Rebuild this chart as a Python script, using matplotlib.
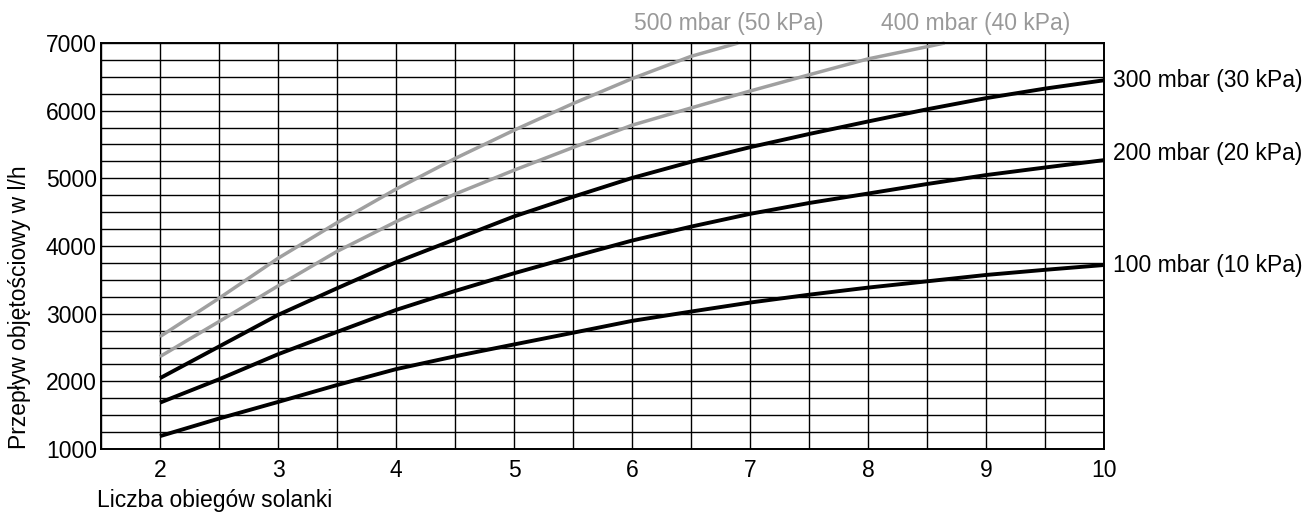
import matplotlib
matplotlib.use("Agg")
import matplotlib.pyplot as plt
from matplotlib.ticker import MultipleLocator

plt.rcParams['font.family'] = ['Liberation Sans', 'DejaVu Sans']

x_full = [2, 2.5, 3, 3.5, 4, 4.5, 5, 5.5, 6, 6.5, 7, 7.5, 8, 8.5, 9, 9.5, 10]
flow_100 = [1190, 1450, 1695, 1945, 2180, 2370, 2545, 2718, 2893, 3031, 3164, 3280, 3385, 3478, 3572, 3648, 3719]
flow_200 = [1685, 2030, 2400, 2730, 3055, 3335, 3597, 3843, 4080, 4286, 4475, 4635, 4775, 4916, 5048, 5160, 5269]
flow_300 = [2047, 2514, 2981, 3375, 3760, 4098, 4437, 4727, 5005, 5244, 5460, 5655, 5840, 6020, 6185, 6326, 6449]
x_400 = [2, 2.5, 3, 3.5, 4, 4.5, 5, 5.5, 6, 6.5, 7, 7.5, 8, 8.5, 8.65]
flow_400 = [2366, 2883, 3410, 3920, 4359, 4767, 5120, 5456, 5785, 6040, 6290, 6530, 6765, 6945, 7000]
x_500 = [2, 2.5, 3, 3.5, 4, 4.5, 5, 5.5, 6, 6.5, 6.9]
flow_500 = [2661, 3227, 3818, 4344, 4840, 5293, 5711, 6105, 6473, 6803, 7000]

labels_right = ["100 mbar (10 kPa)", "200 mbar (20 kPa)", "300 mbar (30 kPa)"]
labels_top = ["500 mbar (50 kPa)", "400 mbar (40 kPa)"]
x_ticks = [2, 3, 4, 5, 6, 7, 8, 9, 10]
y_ticks = [1000, 2000, 3000, 4000, 5000, 6000, 7000]

fig = plt.figure(figsize=(13.11, 5.13), dpi=100)
ax = fig.add_axes([101/1311, 1 - 449/513, (1104-101)/1311, (449-43)/513])

fs = 16.5
ax.set_xlim(1.5, 10)
ax.set_ylim(1000, 7000)
ax.set_xticks(x_ticks)
ax.set_yticks(y_ticks)
ax.xaxis.set_minor_locator(MultipleLocator(0.5))
ax.yaxis.set_minor_locator(MultipleLocator(250))
ax.grid(which='both', color='black', linewidth=1.0)
ax.tick_params(which='both', length=0, labelsize=fs, colors='black')
ax.tick_params(axis='x', pad=7)
ax.tick_params(axis='y', pad=3)
for s in ax.spines.values():
    s.set_linewidth(1.4)
    s.set_color('black')
ax.set_axisbelow(True)

black = '#000000'
gray = '#a0a0a0'
lw_b = 2.8
lw_g = 2.5
ax.plot(x_full, flow_100, color=black, lw=lw_b, solid_capstyle='butt', clip_on=False)
ax.plot(x_full, flow_200, color=black, lw=lw_b, solid_capstyle='butt', clip_on=False)
ax.plot(x_full, flow_300, color=black, lw=lw_b, solid_capstyle='butt', clip_on=False)
ax.plot(x_400, flow_400, color=gray, lw=lw_g, solid_capstyle='butt', clip_on=False)
ax.plot(x_500, flow_500, color=gray, lw=lw_g, solid_capstyle='butt', clip_on=False)

ax.annotate(labels_right[0], (x_full[-1], flow_100[-1]), xytext=(6.5, 0), textcoords='offset points',
            ha='left', va='center', fontsize=fs, color=black)
ax.annotate(labels_right[1], (x_full[-1], flow_200[-1]), xytext=(6.5, 4.5), textcoords='offset points',
            ha='left', va='center', fontsize=fs, color=black)
ax.annotate(labels_right[2], (x_full[-1], flow_300[-1]), xytext=(6.5, 0), textcoords='offset points',
            ha='left', va='center', fontsize=fs, color=black)
ax.annotate(labels_top[0], (x_500[-1], flow_500[-1]), xytext=(-7, 14), textcoords='offset points',
            ha='center', va='center', fontsize=fs, color='#999999', annotation_clip=False)
ax.annotate(labels_top[1], (x_400[-1], flow_400[-1]), xytext=(22, 14), textcoords='offset points',
            ha='center', va='center', fontsize=fs, color='#999999', annotation_clip=False)

fig.text(97/1311, 1 - 500/513, "Liczba obiegów solanki", ha='left', va='center', fontsize=fs)
fig.text(20/1311, 1 - 307/513, "Przepływ objętościowy w l/h", ha='center', va='center',
         rotation=90, fontsize=fs)

fig.savefig("out.png", dpi=100)
